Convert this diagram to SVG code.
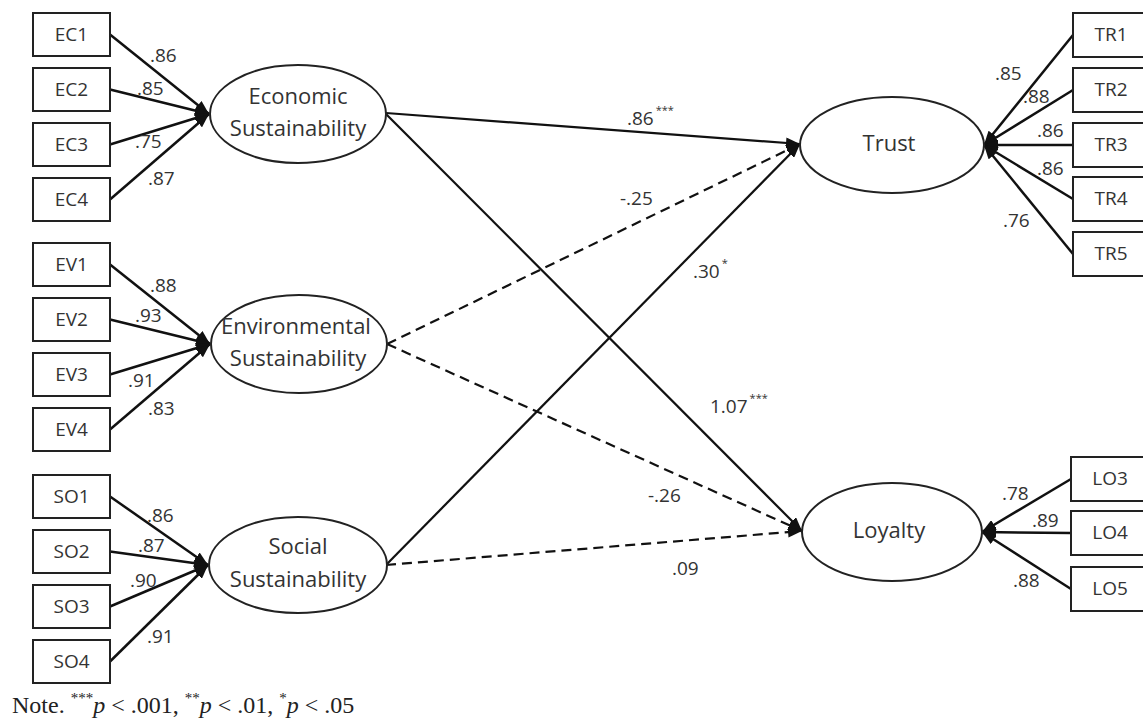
<svg xmlns="http://www.w3.org/2000/svg" width="1143" height="725" viewBox="0 0 1143 725">
<style>
.box{fill:#fff;stroke:#222;stroke-width:2}
.lat{fill:#fff;stroke:#222;stroke-width:2}
.bl{font-family:"Open Sans","Liberation Sans",sans-serif;font-size:19px;fill:#333;text-anchor:middle}
.ll{font-family:"Open Sans","Liberation Sans",sans-serif;font-size:22px;fill:#333;text-anchor:middle}
.num{font-family:"Open Sans","Liberation Sans",sans-serif;font-size:19px;fill:#333}
.sup{font-size:11px}
.ld{stroke:#111;stroke-width:2.5;fill:none;marker-end:url(#ah)}
.sp{stroke:#111;stroke-width:2.2;fill:none;marker-end:url(#ah)}
.dp{stroke:#111;stroke-width:2.2;fill:none;stroke-dasharray:10 6;marker-end:url(#ah)}
.note{font-family:"Liberation Serif",serif;font-size:24px;fill:#222}
</style>
<defs>
<marker id="ah" markerUnits="userSpaceOnUse" markerWidth="14" markerHeight="11" refX="14" refY="5.5" orient="auto">
<path d="M0,0 L14,5.5 L0,11 z" fill="#111"/>
</marker>
</defs>
<rect width="1143" height="725" fill="#fff"/>

<g id="connectors">
<line class="ld" x1="110" y1="34.5" x2="209" y2="114"/>
<line class="ld" x1="110" y1="89.5" x2="209" y2="114"/>
<line class="ld" x1="110" y1="144.5" x2="209" y2="114"/>
<line class="ld" x1="110" y1="199.5" x2="209" y2="114"/>
<line class="ld" x1="110" y1="264.5" x2="210" y2="344"/>
<line class="ld" x1="110" y1="319.5" x2="210" y2="344"/>
<line class="ld" x1="110" y1="374.5" x2="210" y2="344"/>
<line class="ld" x1="110" y1="429.5" x2="210" y2="344"/>
<line class="ld" x1="110" y1="496.5" x2="208" y2="565"/>
<line class="ld" x1="110" y1="551.5" x2="208" y2="565"/>
<line class="ld" x1="110" y1="606.5" x2="208" y2="565"/>
<line class="ld" x1="110" y1="661.5" x2="208" y2="565"/>
<line class="ld" x1="1073" y1="35" x2="984" y2="145"/>
<line class="ld" x1="1073" y1="90" x2="984" y2="145"/>
<line class="ld" x1="1073" y1="145" x2="984" y2="145"/>
<line class="ld" x1="1073" y1="199" x2="984" y2="145"/>
<line class="ld" x1="1073" y1="254" x2="984" y2="145"/>
<line class="ld" x1="1071" y1="479" x2="982" y2="532"/>
<line class="ld" x1="1071" y1="533" x2="982" y2="532"/>
<line class="ld" x1="1071" y1="589" x2="982" y2="532"/>
<line class="sp" x1="386" y1="113" x2="800" y2="144"/>
<line class="sp" x1="386" y1="114" x2="802" y2="531"/>
<line class="dp" x1="387" y1="344" x2="800" y2="144"/>
<line class="dp" x1="387" y1="344" x2="802" y2="531"/>
<line class="sp" x1="386" y1="565" x2="800" y2="144"/>
<line class="dp" x1="386" y1="565" x2="802" y2="531"/>
</g>

<g id="EC1"><rect class="box" x="33" y="13" width="77" height="43"/><text class="bl" x="71.5" y="41">EC1</text></g>
<g id="EC2"><rect class="box" x="33" y="68" width="77" height="43"/><text class="bl" x="71.5" y="96">EC2</text></g>
<g id="EC3"><rect class="box" x="33" y="123" width="77" height="43"/><text class="bl" x="71.5" y="151">EC3</text></g>
<g id="EC4"><rect class="box" x="33" y="178" width="77" height="43"/><text class="bl" x="71.5" y="206">EC4</text></g>
<g id="EV1"><rect class="box" x="33" y="243" width="77" height="43"/><text class="bl" x="71.5" y="271">EV1</text></g>
<g id="EV2"><rect class="box" x="33" y="298" width="77" height="43"/><text class="bl" x="71.5" y="326">EV2</text></g>
<g id="EV3"><rect class="box" x="33" y="353" width="77" height="43"/><text class="bl" x="71.5" y="381">EV3</text></g>
<g id="EV4"><rect class="box" x="33" y="408" width="77" height="43"/><text class="bl" x="71.5" y="436">EV4</text></g>
<g id="SO1"><rect class="box" x="33" y="475" width="77" height="43"/><text class="bl" x="71.5" y="503">SO1</text></g>
<g id="SO2"><rect class="box" x="33" y="530" width="77" height="43"/><text class="bl" x="71.5" y="558">SO2</text></g>
<g id="SO3"><rect class="box" x="33" y="585" width="77" height="43"/><text class="bl" x="71.5" y="613">SO3</text></g>
<g id="SO4"><rect class="box" x="33" y="640" width="77" height="43"/><text class="bl" x="71.5" y="668">SO4</text></g>

<g id="TR1"><rect class="box" x="1073" y="13" width="90" height="44"/><text class="bl" x="1111" y="41">TR1</text></g>
<g id="TR2"><rect class="box" x="1073" y="68" width="90" height="44"/><text class="bl" x="1111" y="96">TR2</text></g>
<g id="TR3"><rect class="box" x="1073" y="123" width="90" height="44"/><text class="bl" x="1111" y="151">TR3</text></g>
<g id="TR4"><rect class="box" x="1073" y="177" width="90" height="44"/><text class="bl" x="1111" y="205">TR4</text></g>
<g id="TR5"><rect class="box" x="1073" y="232" width="90" height="44"/><text class="bl" x="1111" y="260">TR5</text></g>
<g id="LO3"><rect class="box" x="1071" y="457" width="90" height="44"/><text class="bl" x="1110" y="485">LO3</text></g>
<g id="LO4"><rect class="box" x="1071" y="511" width="90" height="44"/><text class="bl" x="1110" y="539">LO4</text></g>
<g id="LO5"><rect class="box" x="1071" y="567" width="90" height="44"/><text class="bl" x="1110" y="595">LO5</text></g>

<g id="economic"><ellipse class="lat" cx="298" cy="114" rx="88" ry="49"/><text class="ll" x="298" y="104">Economic</text><text class="ll" x="298" y="136">Sustainability</text></g>
<g id="environmental"><ellipse class="lat" cx="299" cy="344" rx="88" ry="49"/><text class="ll" x="296" y="334">Environmental</text><text class="ll" x="298" y="366">Sustainability</text></g>
<g id="social"><ellipse class="lat" cx="298" cy="565" rx="89" ry="48"/><text class="ll" x="298" y="554">Social</text><text class="ll" x="298" y="587">Sustainability</text></g>
<g id="trust"><ellipse class="lat" cx="892" cy="145" rx="92" ry="48"/><text class="ll" x="889" y="151">Trust</text></g>
<g id="loyalty"><ellipse class="lat" cx="892" cy="532" rx="90" ry="49"/><text class="ll" x="889" y="538">Loyalty</text></g>

<g id="labels">
<text class="num" x="150" y="62">.86</text>
<text class="num" x="137" y="95">.85</text>
<text class="num" x="135" y="148">.75</text>
<text class="num" x="148" y="185">.87</text>
<text class="num" x="150" y="292">.88</text>
<text class="num" x="135" y="322">.93</text>
<text class="num" x="128" y="387">.91</text>
<text class="num" x="148" y="415">.83</text>
<text class="num" x="147" y="522">.86</text>
<text class="num" x="138" y="552">.87</text>
<text class="num" x="130" y="587">.90</text>
<text class="num" x="147" y="643">.91</text>
<text class="num" x="995" y="80">.85</text>
<text class="num" x="1023" y="103">.88</text>
<text class="num" x="1037" y="137">.86</text>
<text class="num" x="1037" y="175">.86</text>
<text class="num" x="1003" y="227">.76</text>
<text class="num" x="1002" y="500">.78</text>
<text class="num" x="1032" y="527">.89</text>
<text class="num" x="1013" y="587">.88</text>
<text class="num" x="627" y="125">.86<tspan class="sup" dx="2" dy="-11">***</tspan></text>
<text class="num" x="620" y="205">-.25</text>
<text class="num" x="693" y="278">.30<tspan class="sup" dx="2" dy="-11">*</tspan></text>
<text class="num" x="710" y="413">1.07<tspan class="sup" dx="2" dy="-11">***</tspan></text>
<text class="num" x="648" y="502">-.26</text>
<text class="num" x="672" y="575">.09</text>
</g>

<text class="note" x="12" y="713">Note. <tspan font-size="15" dy="-10">***</tspan><tspan font-style="italic" dy="10">p</tspan> &lt; .001, <tspan font-size="15" dy="-10">**</tspan><tspan font-style="italic" dy="10">p</tspan> &lt; .01, <tspan font-size="15" dy="-10">*</tspan><tspan font-style="italic" dy="10">p</tspan> &lt; .05</text>
</svg>
